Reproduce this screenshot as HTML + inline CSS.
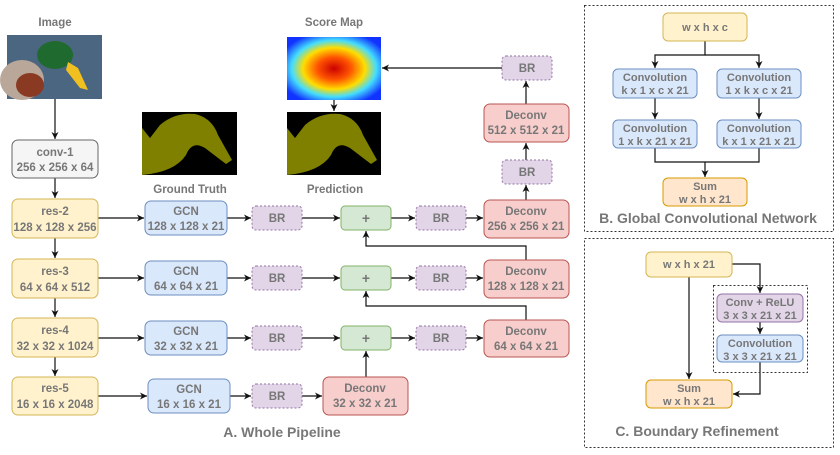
<!DOCTYPE html>
<html><head><meta charset="utf-8"><style>
html,body{margin:0;padding:0;background:#fff;}
svg{display:block;}
text{font-family:"Liberation Sans",sans-serif;font-weight:bold;fill:#777;text-anchor:middle;}
</style></head><body>
<svg width="840" height="455" viewBox="0 0 840 455" xmlns="http://www.w3.org/2000/svg">
<defs>
<marker id="a" markerWidth="8" markerHeight="8" refX="7" refY="4" orient="auto" markerUnits="userSpaceOnUse"><path d="M0,0.5 L7,4 L0,7.5 L2,4z" fill="#111"/></marker>
<radialGradient id="heat" cx="0.5" cy="0.5" r="0.6"><stop offset="0" stop-color="#c00"/><stop offset="0.3" stop-color="#f50"/><stop offset="0.55" stop-color="#fd0"/><stop offset="0.75" stop-color="#4df"/><stop offset="1" stop-color="#13f"/></radialGradient>
</defs>
<g stroke="#111" stroke-width="1.2" fill="none" marker-end="url(#a)">
<path d="M55,99 V139"/><path d="M55,178 V198"/><path d="M55,238 V258"/><path d="M55,298 V317"/><path d="M55,357 V376"/>
<path d="M98,218 H144"/><path d="M98,278 H144"/><path d="M98,338 H144"/><path d="M98,396 H147"/>
<path d="M227,218 H251"/><path d="M227,278 H251"/><path d="M227,338 H251"/><path d="M230,396 H251"/>
<path d="M302,218 H340"/><path d="M302,278 H340"/><path d="M302,338 H340"/><path d="M302,396 H322"/>
<path d="M391,218 H415"/><path d="M391,278 H415"/><path d="M391,338 H415"/>
<path d="M466,218 H483"/><path d="M466,278 H483"/><path d="M466,338 H483"/>
<path d="M366,377 V351"/>
<path d="M526,320 V306 H366 V291"/>
<path d="M526,260 V246 H366 V231"/>
<path d="M526,200 V185"/><path d="M526,160 V143"/><path d="M526,104 V81"/>
<path d="M502,68 H382"/><path d="M334,100 V111"/>
<path d="M705,41 V55 H655 V68"/><path d="M705,55 H759 V68"/>
<path d="M655,98 V119"/><path d="M759,98 V119"/>
<path d="M655,148 V162 H759 V148 M705,162 V177"/>
<path d="M732,264 H760 V293"/><path d="M760,322 V334"/><path d="M760,362 V394 H733"/><path d="M689,277 V379"/>
</g>
<g fill="none" stroke="#333" stroke-dasharray="2,2">
<rect x="584.5" y="5.5" width="249" height="226"/><rect x="584.5" y="238.5" width="249" height="209"/><rect x="713.5" y="285.5" width="94" height="87"/>
</g>
<g stroke-width="1">
<rect x="12" y="140" width="86" height="38" rx="6" fill="#f5f5f5" stroke="#666"/>
<g fill="#fff2cc" stroke="#d6b656">
<rect x="12" y="199" width="86" height="39" rx="6"/><rect x="12" y="259" width="86" height="39" rx="6"/><rect x="12" y="318" width="86" height="39" rx="6"/><rect x="12" y="377" width="86" height="38" rx="6"/>
<rect x="663" y="13" width="84" height="28" rx="5"/><rect x="646" y="252" width="86" height="25" rx="5"/>
</g>
<g fill="#ffe6cc" stroke="#d79b00"><rect x="663" y="178" width="84" height="28" rx="5"/><rect x="646" y="380" width="86" height="28" rx="5"/></g>
<g fill="#dae8fc" stroke="#6c8ebf">
<rect x="145" y="201" width="82" height="34" rx="6"/><rect x="145" y="261" width="82" height="34" rx="6"/><rect x="145" y="321" width="82" height="34" rx="6"/><rect x="148" y="379" width="82" height="34" rx="6"/>
<rect x="613" y="69" width="84" height="29" rx="5"/><rect x="717" y="69" width="84" height="29" rx="5"/><rect x="613" y="120" width="84" height="28" rx="5"/><rect x="717" y="120" width="84" height="28" rx="5"/>
<rect x="717" y="335" width="86" height="27" rx="5"/>
</g>
<g fill="#e1d5e7" stroke="#9673a6" stroke-dasharray="2,2">
<rect x="252" y="206" width="50" height="24" rx="4"/><rect x="252" y="266" width="50" height="24" rx="4"/><rect x="252" y="326" width="50" height="24" rx="4"/><rect x="252" y="384" width="50" height="24" rx="4"/>
<rect x="416" y="206" width="50" height="24" rx="4"/><rect x="416" y="266" width="50" height="24" rx="4"/><rect x="416" y="326" width="50" height="24" rx="4"/>
<rect x="502" y="160" width="50" height="24" rx="4"/><rect x="502" y="56" width="50" height="24" rx="4"/>
</g>
<rect x="717" y="294" width="86" height="28" rx="5" fill="#e1d5e7" stroke="#9673a6"/>
<g fill="#d5e8d4" stroke="#82b366"><rect x="341" y="206" width="50" height="24" rx="4"/><rect x="341" y="266" width="50" height="24" rx="4"/><rect x="341" y="326" width="50" height="24" rx="4"/></g>
<g fill="#f8cecc" stroke="#b85450">
<rect x="484" y="200" width="85" height="38" rx="6"/><rect x="484" y="260" width="85" height="38" rx="6"/><rect x="484" y="320" width="85" height="37" rx="6"/><rect x="484" y="104" width="85" height="38" rx="6"/><rect x="323" y="377" width="85" height="38" rx="6"/>
</g>
</g>
<rect x="7" y="35" width="95" height="64" fill="#4a6680"/>
<ellipse cx="22" cy="80" rx="22" ry="20" fill="#b9a79a"/><ellipse cx="30" cy="85" rx="14" ry="12" fill="#8a3a22"/>
<ellipse cx="55" cy="55" rx="18" ry="14" fill="#1f6a2e"/><path d="M68,62 L78,68 L88,90 L80,88 L66,70z" fill="#f0c020"/>
<rect x="142" y="112" width="95" height="63" fill="#000"/>
<path d="M142,128 L150,138 L160,125 Q175,112 195,114 Q212,118 218,135 L232,160 L226,164 L205,148 Q192,140 186,155 Q175,172 142,175z" fill="#808000"/>
<rect x="287" y="37" width="94" height="63" fill="url(#heat)"/>
<rect x="287" y="112" width="94" height="63" fill="#000"/>
<path d="M287,128 L295,138 L305,125 Q320,112 340,114 Q357,118 363,135 L377,160 L371,164 L350,148 Q337,140 331,155 Q320,172 287,175z" fill="#808000"/>
<g font-size="11.5">
<text x="55" y="26">Image</text><text x="334" y="26">Score Map</text><text x="190" y="193">Ground Truth</text><text x="335" y="193">Prediction</text>
<text x="55" y="156">conv-1</text><text x="55" y="171">256 x 256 x 64</text>
<text x="55" y="215">res-2</text><text x="55" y="231">128 x 128 x 256</text>
<text x="55" y="275">res-3</text><text x="55" y="291">64 x 64 x 512</text>
<text x="55" y="334">res-4</text><text x="55" y="350">32 x 32 x 1024</text>
<text x="55" y="392">res-5</text><text x="55" y="408">16 x 16 x 2048</text>
<text x="186" y="215">GCN</text><text x="186" y="230">128 x 128 x 21</text>
<text x="186" y="275">GCN</text><text x="186" y="290">64 x 64 x 21</text>
<text x="186" y="335">GCN</text><text x="186" y="350">32 x 32 x 21</text>
<text x="189" y="393">GCN</text><text x="189" y="408">16 x 16 x 21</text>
<text x="277" y="222">BR</text><text x="277" y="282">BR</text><text x="277" y="342">BR</text><text x="277" y="400">BR</text>
<text x="441" y="222">BR</text><text x="441" y="282">BR</text><text x="441" y="342">BR</text>
<text x="527" y="176">BR</text><text x="527" y="72">BR</text>
<text x="366" y="223" font-size="14">+</text><text x="366" y="283" font-size="14">+</text><text x="366" y="343" font-size="14">+</text>
<text x="526" y="215">Deconv</text><text x="526" y="230">256 x 256 x 21</text>
<text x="526" y="275">Deconv</text><text x="526" y="290">128 x 128 x 21</text>
<text x="526" y="335">Deconv</text><text x="526" y="350">64 x 64 x 21</text>
<text x="526" y="119">Deconv</text><text x="526" y="134">512 x 512 x 21</text>
<text x="365" y="392">Deconv</text><text x="365" y="407">32 x 32 x 21</text>
</g>
<text x="282" y="437" font-size="14">A. Whole Pipeline</text>
<g font-size="11">
<text x="705" y="31">w x h x c</text>
<text x="655" y="81">Convolution</text><text x="655" y="94">k x 1 x c x 21</text>
<text x="759" y="81">Convolution</text><text x="759" y="94">1 x k x c x 21</text>
<text x="655" y="132">Convolution</text><text x="655" y="145">1 x k x 21 x 21</text>
<text x="759" y="132">Convolution</text><text x="759" y="145">k x 1 x 21 x 21</text>
<text x="705" y="190">Sum</text><text x="705" y="203">w x h x 21</text>
<text x="689" y="268">w x h x 21</text>
<text x="760" y="306">Conv + ReLU</text><text x="760" y="319">3 x 3 x 21 x 21</text>
<text x="760" y="347">Convolution</text><text x="760" y="360">3 x 3 x 21 x 21</text>
<text x="689" y="392">Sum</text><text x="689" y="405">w x h x 21</text>
</g>
<text x="708" y="223" font-size="14">B. Global Convolutional Network</text>
<text x="697" y="436" font-size="14">C. Boundary Refinement</text>
</svg>
</body></html>
